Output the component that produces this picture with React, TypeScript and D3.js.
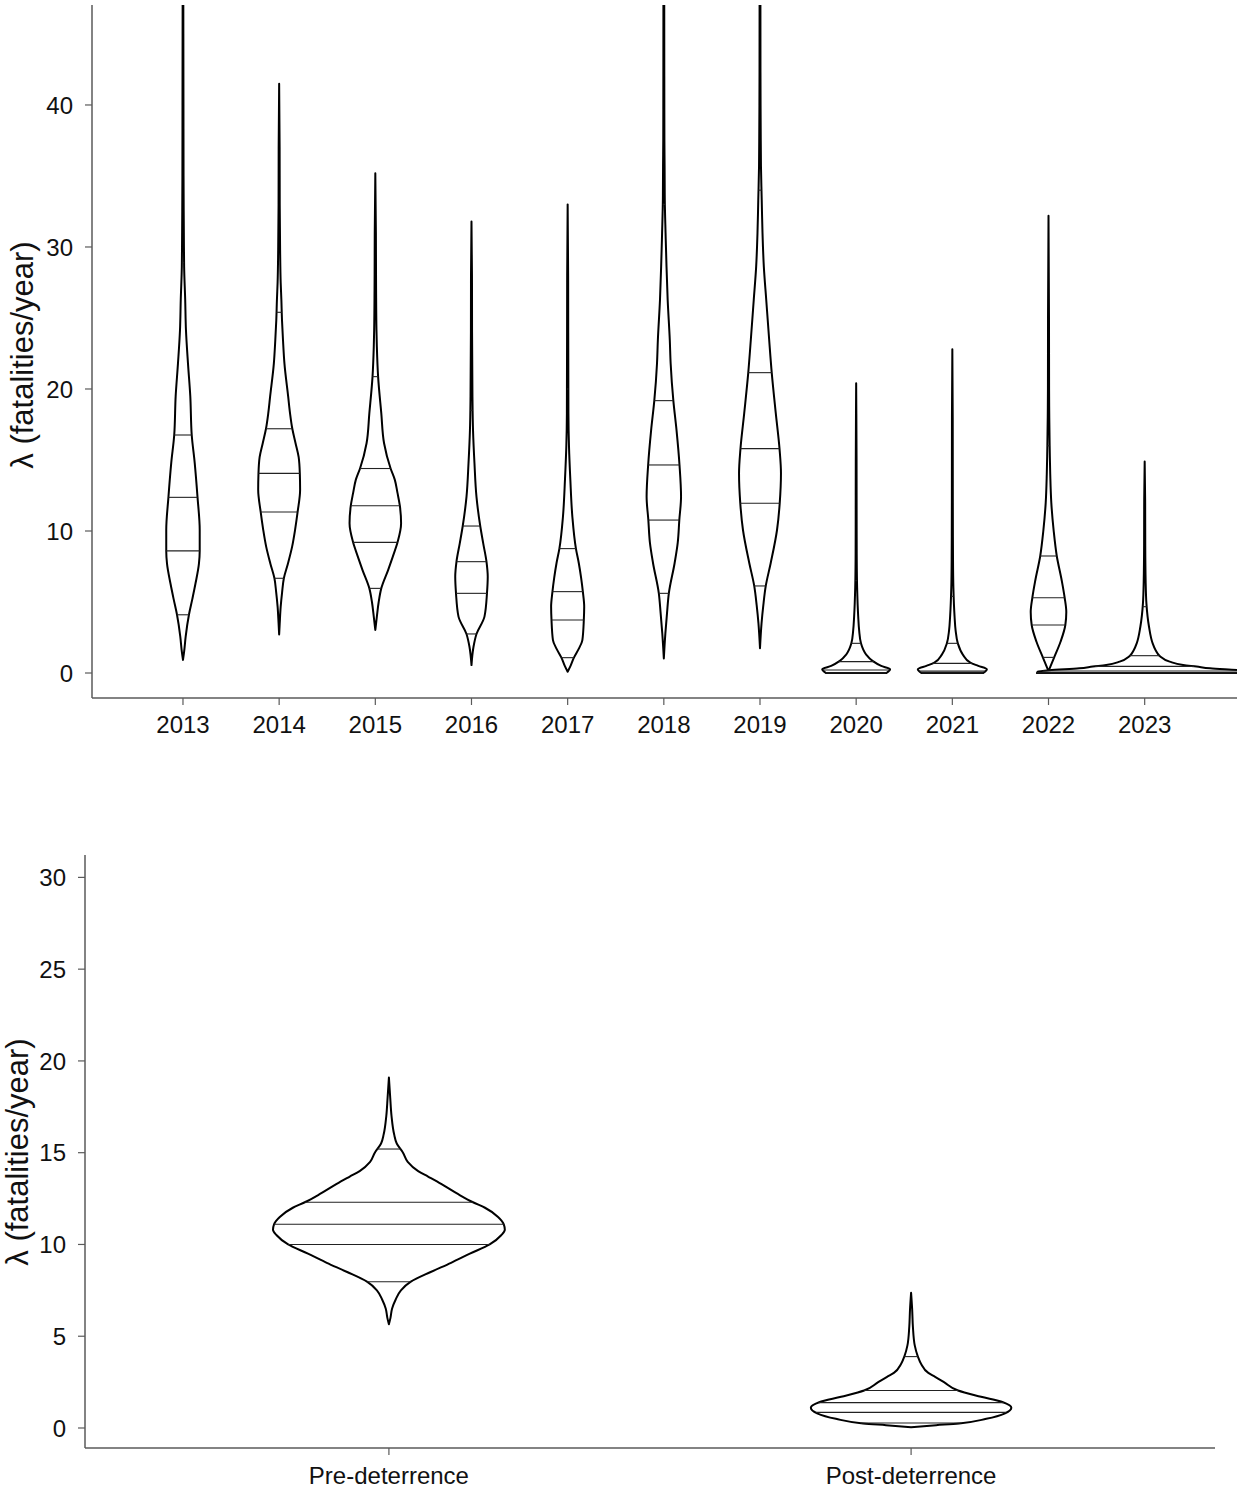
import React from 'react';
import * as d3 from 'd3';

// ---------- DATA ----------
const yearLabels = ['2013', '2014', '2015', '2016', '2017', '2018', '2019', '2020', '2021', '2022', '2023'];

// violin profiles: [lambda value, half-width in category units]
const v2013 = [[0.92,0],[1.5,0.012],[2.56,0.028],[4.1,0.062],[5.2,0.097],[6.3,0.130],[7.7,0.166],[8.6,0.174],[10.07,0.174],[12.4,0.151],[14.8,0.122],[16.76,0.091],[19.5,0.076],[21.8,0.052],[24.15,0.031],[26.3,0.023],[28.6,0.012],[31,0.009],[35,0.006],[40,0.005],[45,0.004],[50,0.003]];
const v2014 = [[2.72,0],[3.5,0.006],[4.67,0.016],[5.7,0.031],[6.67,0.049],[7.7,0.091],[8.9,0.135],[10.1,0.166],[11.34,0.192],[12.9,0.218],[14.06,0.215],[15.2,0.203],[16.2,0.17],[17.2,0.137],[18.3,0.113],[19.46,0.094],[21.8,0.055],[23.45,0.040],[24.8,0.030],[26.3,0.023],[27.5,0.016],[29.8,0.010],[33,0.006],[37,0.005],[41.5,0]];
const v2015 = [[3.03,0],[3.97,0.016],[5.0,0.035],[5.96,0.062],[7.25,0.133],[8.2,0.182],[9.2,0.231],[10.54,0.268],[11.78,0.255],[12.7,0.230],[13.6,0.203],[14.4,0.159],[16.18,0.091],[18.3,0.062],[20.87,0.029],[22.98,0.016],[24.15,0.012],[27,0.008],[31,0.006],[35.2,0]];
const v2016 = [[0.56,0],[1.85,0.021],[2.75,0.052],[3.97,0.135],[5.61,0.161],[6.78,0.169],[7.84,0.156],[9.13,0.122],[10.35,0.091],[12.4,0.052],[14.77,0.031],[17.1,0.016],[19.46,0.010],[24,0.006],[28,0.005],[31.8,0]];
const v2017 = [[0.09,0],[0.5,0.030],[1.08,0.065],[1.7,0.115],[2.32,0.153],[3.73,0.168],[4.67,0.172],[5.73,0.158],[6.7,0.14],[7.73,0.116],[8.76,0.086],[11.0,0.049],[13.6,0.028],[15.94,0.014],[18.3,0.008],[24,0.006],[28,0.005],[33,0]];
const v2018 = [[1.03,0],[2.79,0.016],[4.2,0.033],[5.61,0.052],[7.73,0.112],[9.2,0.145],[10.77,0.161],[12.42,0.179],[14.65,0.163],[17.1,0.132],[19.18,0.099],[21.8,0.071],[23.45,0.062],[26.27,0.040],[28.6,0.028],[31,0.018],[33.3,0.010],[35.7,0.008],[37.5,0.006],[42,0.005],[50,0.004]];
const v2019 = [[1.74,0],[3.5,0.016],[4.8,0.035],[6.13,0.060],[7.73,0.111],[10.07,0.177],[11.95,0.205],[14.06,0.218],[15.8,0.203],[18.3,0.164],[21.15,0.122],[23.5,0.095],[26.27,0.065],[28.6,0.040],[31,0.026],[33.3,0.018],[35.7,0.010],[37.5,0.008],[40,0.006],[42.3,0.005],[50,0.004]];
const v2020 = [[0,0.315],[0.26,0.353],[0.5,0.26],[0.85,0.17],[1.3,0.104],[2.09,0.05],[3,0.031],[4,0.021],[6,0.010],[8,0.006],[10,0.005],[15,0.004],[20.4,0]];
const v2021 = [[0,0.322],[0.26,0.359],[0.5,0.27],[0.73,0.187],[1.3,0.109],[2.09,0.057],[3,0.034],[4,0.023],[6,0.011],[8,0.007],[12,0.005],[18,0.004],[22.8,0]];
const v2022 = [[0.14,0],[1.1,0.059],[2.2,0.125],[3.38,0.175],[4.3,0.185],[5.3,0.168],[6.5,0.138],[8.24,0.086],[10,0.054],[12,0.029],[14,0.018],[16,0.012],[18,0.008],[20,0.006],[25,0.005],[32.2,0]];
const v2023 = [[0,1.12],[0.1,1.11],[0.2,0.99],[0.33,0.68],[0.45,0.54],[0.56,0.40],[0.8,0.26],[1.2,0.156],[1.6,0.114],[2.09,0.083],[3.26,0.045],[4.9,0.018],[6.5,0.010],[9,0.006],[12,0.005],[14.9,0]];
const yearProfiles = [v2013, v2014, v2015, v2016, v2017, v2018, v2019, v2020, v2021, v2022, v2023];

// quantiles 2.5%, 25%, 50%, 75%, 97.5%
const yearQuantiles = [
  [4.1, 8.6, 12.37, 16.76, 28.9],
  [6.67, 11.34, 14.06, 17.2, 25.4],
  [5.96, 9.2, 11.78, 14.4, 20.87],
  [2.75, 5.61, 7.84, 10.35, 18.5],
  [1.08, 3.73, 5.73, 8.76, 20.0],
  [5.61, 10.77, 14.65, 19.18, 33.0],
  [6.13, 11.95, 15.8, 21.15, 34.0],
  [0.01, 0.21, 0.8, 2.09, 6.5],
  [0.01, 0.13, 0.68, 2.09, 5.4],
  [1.1, 3.38, 5.3, 8.24, 16.0],
  [0.01, 0.14, 0.47, 1.22, 4.67],
];
const topTicks = [0, 10, 20, 30, 40];

const groupLabels = ['Pre-deterrence', 'Post-deterrence'];
const vPre = [[5.65,0],[6.0,0.003],[6.5,0.006],[7.0,0.013],[7.5,0.023],[7.97,0.042],[8.5,0.080],[9.0,0.119],[9.5,0.155],[10.0,0.193],[10.5,0.215],[10.8,0.222],[11.1,0.220],[11.5,0.209],[12.0,0.184],[12.3,0.161],[12.75,0.132],[13.3,0.100],[13.7,0.075],[14.0,0.056],[14.5,0.036],[15.0,0.027],[15.5,0.015],[16.0,0.010],[17.0,0.005],[18.0,0.0025],[19.1,0]];
const vPost = [[0.04,0],[0.15,0.048],[0.25,0.092],[0.5,0.144],[0.8,0.180],[1.1,0.192],[1.4,0.176],[1.7,0.134],[2.04,0.090],[2.5,0.063],[2.79,0.046],[3.0,0.033],[3.5,0.019],[3.89,0.013],[4.5,0.007],[5.5,0.0035],[6.5,0.002],[7.37,0]];
const groupProfiles = [vPre, vPost];
const groupQuantiles = [
  [7.97, 10.0, 11.1, 12.3, 15.2],
  [0.27, 0.85, 1.38, 2.04, 3.89],
];
const bottomTicks = [0, 5, 10, 15, 20, 25, 30];

const yTitle = 'λ (fatalities/year)';

// ---------- HELPERS ----------
function halfAt(profile: number[][], v: number) {
  if (v <= profile[0][0]) return profile[0][1];
  for (let i = 1; i < profile.length; i++) {
    if (v <= profile[i][0]) {
      const [v0, w0] = profile[i - 1];
      const [v1, w1] = profile[i];
      return w0 + ((v - v0) / (v1 - v0)) * (w1 - w0);
    }
  }
  return profile[profile.length - 1][1];
}

function violinPath(profile: number[][], c: number, xs: any, ys: any) {
  const gen = d3.line().curve(d3.curveMonotoneY);
  const right = profile.map(([v, w]) => [xs(c + w), ys(v)] as [number, number]);
  const left = profile.map(([v, w]) => [xs(c - w), ys(v)] as [number, number]).reverse();
  const r = gen(right) as string;
  const l = gen(left) as string;
  return r + 'L' + l.slice(1) + 'Z';
}

const FONT = '"Liberation Sans", Arial, Helvetica, sans-serif';
const AXIS = '#5a5a5a';

function Panel(props: any) {
  const { labels, profiles, quantiles, ticks, xs, ys, x0, x1, y0, y1, clipId, yTitleX, yTitleY, labelY } = props;
  return (
    <g>
      <defs>
        <clipPath id={clipId}>
          <rect x={x0} y={y1} width={x1 - x0} height={y0 - y1} />
        </clipPath>
      </defs>
      {/* axes */}
      <line x1={x0} x2={x0} y1={y1} y2={y0} stroke={AXIS} strokeWidth={1.5} />
      <line x1={x0} x2={x1} y1={y0} y2={y0} stroke={AXIS} strokeWidth={1.5} />
      {ticks.map((t: number) => (
        <g key={t}>
          <line x1={x0 - 7} x2={x0} y1={ys(t)} y2={ys(t)} stroke={AXIS} strokeWidth={1.2} />
          <text x={x0 - 19} y={ys(t)} dy="0.36em" textAnchor="end" fontSize={24} fontFamily={FONT} fill="#111">{t}</text>
        </g>
      ))}
      {labels.map((lab: string, i: number) => (
        <g key={lab}>
          <line x1={xs(i + 1)} x2={xs(i + 1)} y1={y0} y2={y0 + 7} stroke={AXIS} strokeWidth={1.2} />
          <text x={xs(i + 1)} y={labelY} dy="0.36em" textAnchor="middle" fontSize={24} fontFamily={FONT} fill="#111">{lab}</text>
        </g>
      ))}
      <text transform={`translate(${yTitleX},${yTitleY}) rotate(-90)`} textAnchor="middle" dy="0.36em" fontSize={31} fontFamily={FONT} fill="#111">{yTitle}</text>
      {/* violins */}
      <g clipPath={`url(#${clipId})`}>
        {profiles.map((p: number[][], i: number) => (
          <g key={i}>
            <path d={violinPath(p, i + 1, xs, ys)} fill="white" stroke="#000" strokeWidth={2} strokeLinejoin="round" />
            {quantiles[i].map((q: number, k: number) => {
              const w = halfAt(p, q);
              return (
                <line key={k} x1={xs(i + 1 - w)} x2={xs(i + 1 + w)} y1={ys(q)} y2={ys(q)} stroke="#222" strokeWidth={1.1} />
              );
            })}
          </g>
        ))}
      </g>
    </g>
  );
}

export default function App() {
  const W = 1244, H = 1490;
  const xTop = d3.scaleLinear().domain([0.054, 11.96]).range([92, 1237]);
  const yTopS = d3.scaleLinear().domain([-1.76, 47.04]).range([698, 5]);
  const xBot = d3.scaleLinear().domain([0.418, 2.582]).range([85, 1215]);
  const yBotS = d3.scaleLinear().domain([-1.09, 31.22]).range([1448, 855]);
  return (
    <svg width={W} height={H} style={{ position: 'absolute', left: 0, top: 0, background: '#fff' }}>
      <rect width={W} height={H} fill="#fff" />
      <Panel labels={yearLabels} profiles={yearProfiles} quantiles={yearQuantiles} ticks={topTicks}
        xs={xTop} ys={yTopS} x0={92} x1={1237} y0={698} y1={5} clipId="clipTop"
        yTitleX={22} yTitleY={355} labelY={724} />
      <Panel labels={groupLabels} profiles={groupProfiles} quantiles={groupQuantiles} ticks={bottomTicks}
        xs={xBot} ys={yBotS} x0={85} x1={1215} y0={1448} y1={855} clipId="clipBot"
        yTitleX={17} yTitleY={1152} labelY={1475} />
    </svg>
  );
}
